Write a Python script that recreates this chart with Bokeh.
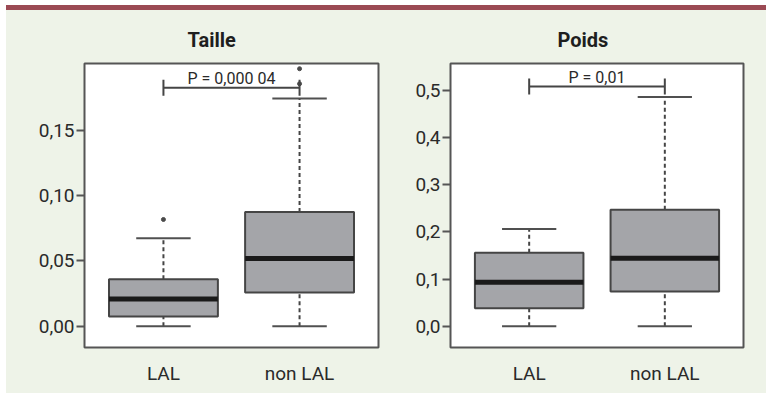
from bokeh.plotting import figure
from bokeh.layouts import row, column
from bokeh.models import (Div, Range1d, FixedTicker, CustomJSTickFormatter, Label,
                          ColumnDataSource)
from bokeh.embed import file_html
from bokeh.resources import INLINE

# ---------------- data ----------------
categories = ["LAL", "non LAL"]

taille_min = [0.0, 0.0]
taille_q1 = [0.0076, 0.0259]
taille_median = [0.0208, 0.0518]
taille_q3 = [0.0360, 0.0875]
taille_max = [0.0673, 0.1743]
taille_out_cat = ["LAL", "non LAL", "non LAL"]
taille_out_val = [0.0817, 0.1855, 0.1970]
taille_ticks = [0.0, 0.05, 0.10, 0.15]
taille_p_text = "P = 0,000 04"
taille_p_y = 0.1825

poids_min = [0.0, 0.0]
poids_q1 = [0.0382, 0.0737]
poids_median = [0.0934, 0.1444]
poids_q3 = [0.1560, 0.2470]
poids_max = [0.2060, 0.4860]
poids_out_cat = []
poids_out_val = []
poids_ticks = [0.0, 0.1, 0.2, 0.3, 0.4, 0.5]
poids_p_text = "P = 0,01"
poids_p_y = 0.508

BG = "#eef3e8"
MAROON = "#9b4a54"
BOX_FILL = "#a4a5a9"
DARK = "#454545"
TEXT = "#2a2a2a"


def make_panel(title, ymin, q1, med, q3, ymax, out_cat, out_val, ticks, decimals,
               prange, p_text, p_y, width, mb_left, mb_right, title_offset):
    xs = [i + 1 for i in range(len(categories))]
    xmap = {c: i + 1 for i, c in enumerate(categories)}
    p = figure(width=width, height=383, output_backend="svg", toolbar_location=None,
               x_range=Range1d(0.42, 2.58), y_range=Range1d(*prange),
               min_border_left=mb_left, min_border_right=mb_right,
               min_border_top=53, min_border_bottom=46, margin=0)
    p.border_fill_color = BG
    p.background_fill_color = "white"
    p.outline_line_color = "#555555"
    p.outline_line_width = 2
    p.grid.visible = False

    p.title.text = title
    p.title.text_font = "Roboto"
    p.title.text_font_style = "bold"
    p.title.text_font_size = "20px"
    p.title.text_color = "#1e1e1e"
    p.title.align = "left"
    p.title.offset = title_offset
    p.title.standoff = 24

    src = ColumnDataSource(dict(x=xs, lo=ymin, q1=q1, med=med, q3=q3, hi=ymax))
    # whiskers
    p.segment(x0="x", y0="q3", x1="x", y1="hi", source=src, line_color=DARK,
              line_width=2, line_dash="4 3")
    p.segment(x0="x", y0="lo", x1="x", y1="q1", source=src, line_color=DARK,
              line_width=2, line_dash="4 3")
    # caps
    cap_w = 0.40
    p.segment(x0=[x - cap_w / 2 for x in xs], y0=ymax, x1=[x + cap_w / 2 for x in xs],
              y1=ymax, line_color="#505050", line_width=2)
    p.segment(x0=[x - cap_w / 2 for x in xs], y0=ymin, x1=[x + cap_w / 2 for x in xs],
              y1=ymin, line_color="#505050", line_width=2)
    # boxes
    p.vbar(x="x", width=0.8, bottom="q1", top="q3", source=src, fill_color=BOX_FILL,
           line_color=DARK, line_width=2)
    # medians
    p.segment(x0=[x - 0.4 for x in xs], y0=med, x1=[x + 0.4 for x in xs], y1=med,
              line_color="#1a1a1a", line_width=5)
    # outliers
    if out_val:
        p.scatter(x=[xmap[c] for c in out_cat], y=out_val, size=4,
                  color="#4a4a4a", marker="circle")
    # significance bracket
    p.segment(x0=[xs[0]], y0=[p_y], x1=[xs[1]], y1=[p_y], line_color=DARK, line_width=2)
    p.scatter(x=xs, y=[p_y, p_y], marker="dash", angle=1.5708, size=16,
              line_color=DARK, line_width=2)
    p.add_layout(Label(x=sum(xs) / 2, y=p_y, text=p_text, text_align="center",
                       text_baseline="bottom", y_offset=0,
                       text_font="Roboto", text_font_size="16px", text_color=TEXT))

    # axes
    ya = p.yaxis[0]
    ya.ticker = FixedTicker(ticks=ticks)
    ya.formatter = CustomJSTickFormatter(
        code=f"return tick.toFixed({decimals}).replace('.', ',');")
    ya.major_tick_in = 0
    ya.major_tick_out = 8
    ya.minor_tick_line_color = None
    ya.major_tick_line_color = "#555555"
    ya.major_tick_line_width = 2
    ya.axis_line_color = None
    ya.major_label_text_font = "Roboto"
    ya.major_label_text_font_size = "19px"
    ya.major_label_text_color = TEXT
    ya.major_label_standoff = 2

    xa = p.xaxis[0]
    xa.ticker = FixedTicker(ticks=xs)
    xa.major_label_overrides = {x: c for x, c in zip(xs, categories)}
    xa.major_tick_in = 0
    xa.major_tick_out = 0
    xa.minor_tick_line_color = None
    xa.major_tick_line_color = None
    xa.axis_line_color = None
    xa.major_label_text_font = "Roboto"
    xa.major_label_text_font_size = "19px"
    xa.major_label_text_color = TEXT
    xa.major_label_standoff = 14
    return p


p1 = make_panel("Taille", taille_min, taille_q1, taille_median, taille_q3, taille_max,
                taille_out_cat, taille_out_val, taille_ticks, 2, (-0.0162, 0.201),
                taille_p_text, taille_p_y, 399, 78, 27, 103)
p2 = make_panel("Poids", poids_min, poids_q1, poids_median, poids_q3, poids_max,
                poids_out_cat, poids_out_val, poids_ticks, 1, (-0.045, 0.557),
                poids_p_text, poids_p_y, 361, 45, 23, 107)

bar = Div(text="", width=760, height=5, margin=0,
          styles={"background-color": MAROON, "padding": "0", "margin": "0"})
layout = column(bar, row(p1, p2, spacing=0, margin=0,
                         styles={"background-color": BG}),
                spacing=0, margin=(5, 0, 0, 6))

open("out.html", "w").write(file_html(layout, INLINE))
